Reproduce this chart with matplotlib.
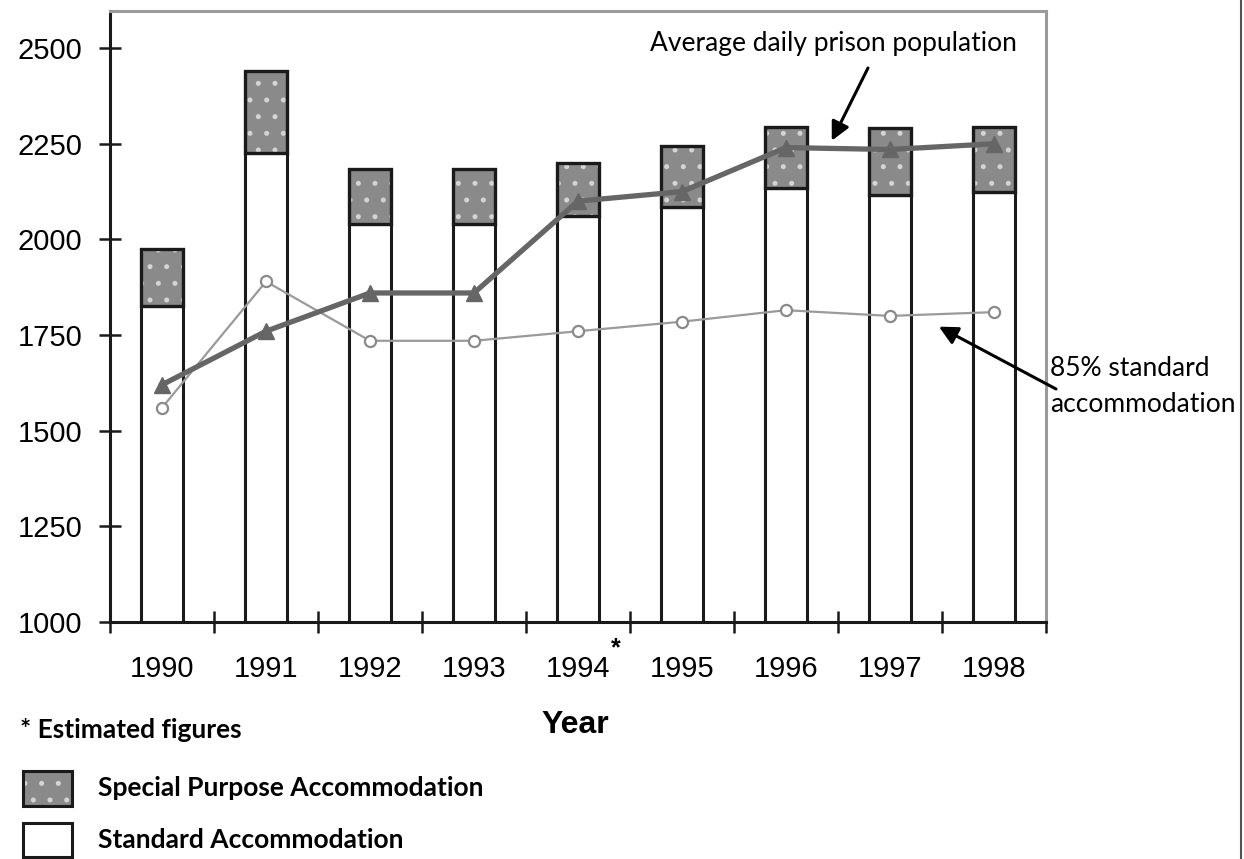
import matplotlib
matplotlib.use("Agg")
import matplotlib.pyplot as plt
from matplotlib.patches import Rectangle
from matplotlib.lines import Line2D

# values
years = ["1990", "1991", "1992", "1993", "1994", "1995", "1996", "1997", "1998"]
standard = [1825, 2225, 2040, 2040, 2060, 2085, 2135, 2115, 2125]
special = [150, 215, 145, 145, 140, 160, 160, 175, 170]
avg_daily = [1620, 1760, 1860, 1860, 2100, 2125, 2240, 2235, 2250]
capacity_85 = [1560, 1890, 1735, 1735, 1760, 1785, 1815, 1800, 1810]
y_ticks = [1000, 1250, 1500, 1750, 2000, 2250, 2500]

W, H = 1244, 859
GRAY = "#8a8a8a"
DOTS = "#d4d4d4"
NOTE_FONT = ["Lato", "DejaVu Sans"]
TICK_FONT = ["Liberation Sans", "DejaVu Sans"]

plt.rcParams["hatch.linewidth"] = 1.2


def fx(px):
    return px / W


def fy(py):
    return 1 - py / H


fig = plt.figure(figsize=(W / 100, H / 100), dpi=100)
ax = fig.add_axes([fx(110), fy(622), fx(1046) - fx(110), fy(11) - fy(622)])

x = list(range(len(years)))
bw = 0.41

# standard accommodation (white) + special purpose (dotted gray) stacked
ax.bar(x, standard, width=bw, bottom=0, color="white", edgecolor="#1a1a1a",
       linewidth=2.2, zorder=2)
ax.bar(x, special, width=bw, bottom=standard, color=GRAY, edgecolor=DOTS,
       linewidth=0, hatch=".", zorder=2)
ax.bar(x, special, width=bw, bottom=standard, fill=False, edgecolor="#1a1a1a",
       linewidth=2.4, zorder=3)

# lines
ax.plot(x, capacity_85, color="#9a9a9a", lw=1.6, marker="o", ms=8,
        mfc="white", mec="#8a8a8a", mew=1.6, zorder=4)
ax.plot(x, avg_daily, color="#666666", lw=3.8, marker="^", ms=11,
        mfc="#666666", mec="#666666", zorder=5)

ax.set_xlim(-0.5, len(years) - 0.5)
ax.set_ylim(1000, 2597)

# x ticks at category boundaries, labels at centres
ax.set_xticks([i - 0.5 for i in range(len(years) + 1)])
ax.set_xticklabels([])
ax.set_xticks(x, minor=True)
ax.set_xticklabels(years, minor=True, fontfamily=TICK_FONT, fontsize=21)
ax.tick_params(axis="x", which="major", direction="inout", length=16,
               width=1.8, color="#1a1a1a")
ax.tick_params(axis="x", which="minor", length=0, pad=24)

ax.set_yticks(y_ticks)
ax.set_yticklabels([str(v) for v in y_ticks], fontfamily=TICK_FONT, fontsize=21)
ax.tick_params(axis="y", direction="inout", length=16, width=1.8,
               color="#1a1a1a", pad=12)

for side in ["left", "bottom"]:
    ax.spines[side].set_color("#1a1a1a")
    ax.spines[side].set_linewidth(2.2)
for side in ["top", "right"]:
    ax.spines[side].set_color("#9a9a9a")
    ax.spines[side].set_linewidth(2.2)

# annotations
fig.text(fx(650), fy(44), "Average daily prison population", ha="left",
         va="center", fontsize=19, fontfamily=NOTE_FONT)
ax.annotate("", xy=(6.44, 2258), xytext=(fx(868), fy(68)),
            textcoords="figure fraction",
            arrowprops=dict(arrowstyle="-|>", color="black", lw=2.2,
                            mutation_scale=28, shrinkA=0, shrinkB=0))

fig.text(fx(1050), fy(368), "85% standard", ha="left", va="center",
         fontsize=19, fontfamily=NOTE_FONT)
fig.text(fx(1050), fy(404), "accommodation", ha="left", va="center",
         fontsize=19, fontfamily=NOTE_FONT)
ax.annotate("", xy=(7.47, 1772), xytext=(fx(1056), fy(389)),
            textcoords="figure fraction",
            arrowprops=dict(arrowstyle="-|>", color="black", lw=2.2,
                            mutation_scale=28, shrinkA=0, shrinkB=0))

fig.text(fx(616), fy(648), "*", ha="center", va="center", fontsize=18,
         fontweight="bold", fontfamily=TICK_FONT)

fig.text(fx(575), fy(725), "Year", ha="center", va="center", fontsize=23,
         fontweight="bold", fontfamily=TICK_FONT)

fig.text(fx(20), fy(730), "* Estimated figures", ha="left", va="center",
         fontsize=19, fontweight="bold", fontfamily=NOTE_FONT)

# legend boxes
fig.add_artist(Rectangle((fx(23), fy(806)), fx(72) - fx(23), fy(771) - fy(806),
                         transform=fig.transFigure, facecolor=GRAY,
                         edgecolor=DOTS, linewidth=0, hatch="."))
fig.add_artist(Rectangle((fx(23), fy(806)), fx(72) - fx(23), fy(771) - fy(806),
                         transform=fig.transFigure, fill=False,
                         edgecolor="#1a1a1a", linewidth=2.2))
fig.add_artist(Rectangle((fx(23), fy(857)), fx(72) - fx(23), fy(823) - fy(857),
                         transform=fig.transFigure, facecolor="white",
                         edgecolor="#1a1a1a", linewidth=2.2))
fig.text(fx(98), fy(788), "Special Purpose Accommodation", ha="left",
         va="center", fontsize=19, fontweight="bold", fontfamily=NOTE_FONT)
fig.text(fx(98), fy(840), "Standard Accommodation", ha="left",
         va="center", fontsize=19, fontweight="bold", fontfamily=NOTE_FONT)

# right border of the page
fig.add_artist(Line2D([fx(1241), fx(1241)], [0, 1], transform=fig.transFigure,
                      color="#555555", lw=1.5))

fig.savefig("out.png", dpi=100)
